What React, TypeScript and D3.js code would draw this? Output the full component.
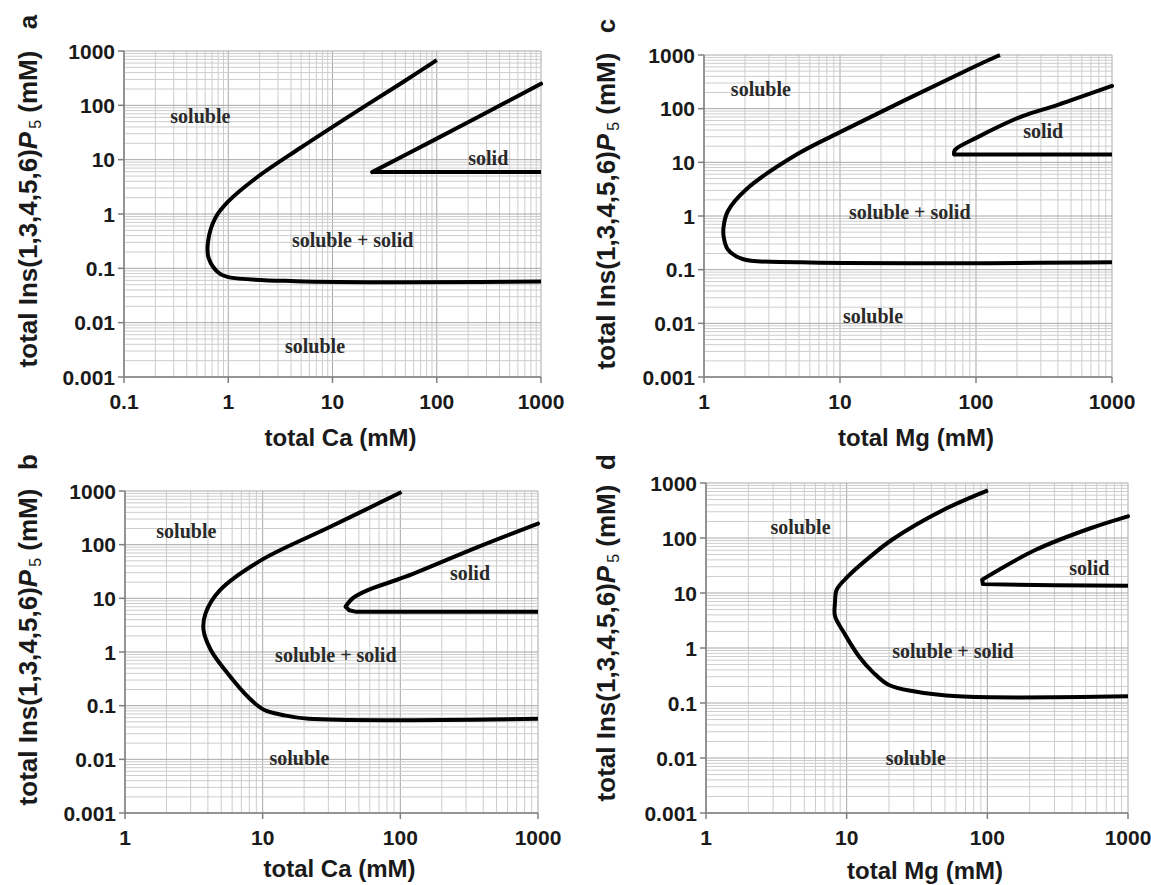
import React, { useRef, useEffect } from 'react'
import * as d3 from 'd3'

type Pt = [number, number]

// boundary curves, [total metal (mM), total InsP5 (mM)]
const outerA: Pt[] = [[100, 680], [48, 272], [21, 100], [4.9, 16.4], [1.85, 4.6], [1, 1.7], [0.75, 0.84], [0.64, 0.31], [0.65, 0.153], [0.82, 0.081], [1, 0.069], [4.5, 0.058], [1000, 0.057]]
const innerA: Pt[] = [[1000, 250], [244, 59.6], [100, 24.4], [24, 5.9], [1000, 5.9]]

const outerB: Pt[] = [[102, 955], [31, 215], [9.7, 51], [4.9, 14.2], [3.84, 5.2], [3.72, 2.56], [4.2, 1.09], [5.56, 0.4], [8, 0.137], [10.3, 0.083], [14, 0.067], [21.6, 0.057], [1000, 0.057]]
const innerB: Pt[] = [[1000, 247], [368, 91], [108, 25], [58, 14.2], [45, 10], [40, 7], [42.5, 6], [48, 5.6], [1000, 5.6]]

const outerC: Pt[] = [[150, 1000], [97, 605], [10, 36.5], [4.9, 14.4], [2.05, 3.16], [1.5, 1.24], [1.39, 0.6], [1.4, 0.39], [1.5, 0.237], [1.92, 0.158], [5.2, 0.137], [1000, 0.137]]
const innerC: Pt[] = [[1000, 265], [400, 118], [218, 72], [103, 29.5], [70, 17], [69, 14], [1000, 14]]

const outerD: Pt[] = [[101, 736], [49, 327], [21, 93], [13.8, 40], [10.2, 20], [8.5, 11.5], [8.26, 6.6], [8.26, 3.8], [9.6, 1.87], [12.2, 0.71], [15.6, 0.35], [19.8, 0.215], [30, 0.163], [62, 0.132], [1000, 0.132]]
const innerD: Pt[] = [[1000, 248], [547, 152], [221, 61], [92, 17.5], [93, 14.5], [300, 13.8], [1000, 13.6]]

// region labels
const labelsA = [{ t: 'soluble', x: 0.54, y: 63 }, { t: 'solid', x: 312, y: 10.7 }, { t: 'soluble + solid', x: 15.6, y: 0.32 }, { t: 'soluble', x: 6.8, y: 0.0037 }]
const labelsB = [{ t: 'soluble', x: 2.79, y: 173 }, { t: 'solid', x: 321, y: 29 }, { t: 'soluble + solid', x: 34, y: 0.88 }, { t: 'soluble', x: 18.5, y: 0.0105 }]
const labelsC = [{ t: 'soluble', x: 2.62, y: 227 }, { t: 'solid', x: 312, y: 37.6 }, { t: 'soluble + solid', x: 32.6, y: 1.15 }, { t: 'soluble', x: 17.5, y: 0.0133 }]
const labelsD = [{ t: 'soluble', x: 4.7, y: 158 }, { t: 'solid', x: 531, y: 28.5 }, { t: 'soluble + solid', x: 57, y: 0.87 }, { t: 'soluble', x: 31, y: 0.01 }]

const yTicks = [0.001, 0.01, 0.1, 1, 10, 100, 1000]
const yTickLabels = ['0.001', '0.01', '0.1', '1', '10', '100', '1000']
const xTicksWide = [0.1, 1, 10, 100, 1000]
const xTickLabelsWide = ['0.1', '1', '10', '100', '1000']
const xTicks = [1, 10, 100, 1000]
const xTickLabels = ['1', '10', '100', '1000']

const panels = [
  { id: 'a', outer: outerA, inner: innerA, labels: labelsA, xTicks: xTicksWide, xLabels: xTickLabelsWide, xTitle: 'total Ca (mM)',
    box: { left: 124, right: 541, top: 51, bottom: 377 }, titleX: 28, titleY: 446, letterY: 22 },
  { id: 'b', outer: outerB, inner: innerB, labels: labelsB, xTicks: xTicks, xLabels: xTickLabels, xTitle: 'total Ca (mM)',
    box: { left: 125, right: 538, top: 491, bottom: 813 }, titleX: 28, titleY: 877, letterY: 462 },
  { id: 'c', outer: outerC, inner: innerC, labels: labelsC, xTicks: xTicks, xLabels: xTickLabels, xTitle: 'total Mg (mM)',
    box: { left: 704, right: 1112, top: 55, bottom: 377 }, titleX: 606, titleY: 446, letterY: 26 },
  { id: 'd', outer: outerD, inner: innerD, labels: labelsD, xTicks: xTicks, xLabels: xTickLabels, xTitle: 'total Mg (mM)',
    box: { left: 706, right: 1128, top: 483, bottom: 813 }, titleX: 606, titleY: 879, letterY: 462 },
]

const sans = "'Liberation Sans', Arial, sans-serif"
const serif = "'Liberation Serif', 'Times New Roman', serif"

export default function App() {
  const ref = useRef<SVGSVGElement>(null)

  useEffect(() => {
    const svg = d3.select(ref.current)
    svg.selectAll('*').remove()

    panels.forEach(p => {
      const b = p.box
      const xDomain = [p.xTicks[0], p.xTicks[p.xTicks.length - 1]]
      const x = d3.scaleLog().domain(xDomain).range([b.left, b.right])
      const y = d3.scaleLog().domain([0.001, 1000]).range([b.bottom, b.top])
      const g = svg.append('g').attr('id', 'panel-' + p.id)

      // gridlines, every 1..9 of each decade
      const xGrid: number[] = []
      for (let i = 0; i < p.xTicks.length - 1; i++)
        for (let k = 1; k <= 9; k++) xGrid.push(p.xTicks[i] * k)
      xGrid.push(xDomain[1])
      const yGrid: number[] = []
      for (let i = 0; i < yTicks.length - 1; i++)
        for (let k = 1; k <= 9; k++) yGrid.push(yTicks[i] * k)
      yGrid.push(1000)

      g.append('g').selectAll('line').data(xGrid).join('line')
        .attr('x1', d => x(d)).attr('x2', d => x(d))
        .attr('y1', b.top).attr('y2', b.bottom)
        .attr('stroke', (d, i) => i % 9 === 0 ? '#a8a8a8' : '#cdcdcd')
        .attr('stroke-width', 1)
      g.append('g').selectAll('line').data(yGrid).join('line')
        .attr('x1', b.left).attr('x2', b.right)
        .attr('y1', d => y(d)).attr('y2', d => y(d))
        .attr('stroke', (d, i) => i % 9 === 0 ? '#a8a8a8' : '#cdcdcd')
        .attr('stroke-width', 1)

      // axes
      g.append('line').attr('x1', b.left).attr('x2', b.left).attr('y1', b.top).attr('y2', b.bottom)
        .attr('stroke', '#7f7f7f').attr('stroke-width', 1.5)
      g.append('line').attr('x1', b.left).attr('x2', b.right).attr('y1', b.bottom).attr('y2', b.bottom)
        .attr('stroke', '#7f7f7f').attr('stroke-width', 1.5)
      g.append('g').selectAll('line').data(yTicks).join('line')
        .attr('x1', b.left - 6).attr('x2', b.left).attr('y1', d => y(d)).attr('y2', d => y(d))
        .attr('stroke', '#7f7f7f').attr('stroke-width', 1.5)
      g.append('g').selectAll('line').data(p.xTicks).join('line')
        .attr('x1', d => x(d)).attr('x2', d => x(d)).attr('y1', b.bottom).attr('y2', b.bottom + 6)
        .attr('stroke', '#7f7f7f').attr('stroke-width', 1.5)

      g.append('g').selectAll('text').data(yTicks).join('text')
        .attr('x', b.left - 9).attr('y', d => y(d)).attr('dy', '0.36em')
        .attr('text-anchor', 'end').attr('font-family', sans).attr('font-weight', 'bold')
        .attr('font-size', 21).attr('fill', '#1a1a1a')
        .text((d, i) => yTickLabels[i])
      g.append('g').selectAll('text').data(p.xTicks).join('text')
        .attr('x', d => x(d)).attr('y', b.bottom + 24).attr('dy', '0.36em')
        .attr('text-anchor', 'middle').attr('font-family', sans).attr('font-weight', 'bold')
        .attr('font-size', 21).attr('fill', '#1a1a1a')
        .text((d, i) => p.xLabels[i])

      // titles
      g.append('text')
        .attr('x', (b.left + b.right) / 2 + 8).attr('y', p.titleY)
        .attr('text-anchor', 'middle').attr('font-family', sans).attr('font-weight', 'bold')
        .attr('font-size', 24).attr('fill', '#1a1a1a')
        .text(p.xTitle)

      const yt = g.append('text')
        .attr('transform', `translate(${p.titleX + 9},${(b.top + b.bottom) / 2 - 5}) rotate(-90)`)
        .attr('text-anchor', 'middle').attr('font-family', sans).attr('font-weight', 'bold')
        .attr('font-size', 26).attr('fill', '#1a1a1a')
      yt.append('tspan').text('total Ins(1,3,4,5,6)')
      yt.append('tspan').attr('font-style', 'italic').text('P')
      yt.append('tspan').attr('font-size', 16).attr('font-weight', 'normal').attr('dx', 3).attr('dy', 4).text('5')
      yt.append('tspan').attr('dy', -4).text(' (mM)')

      g.append('text')
        .attr('transform', `translate(${p.titleX + 9},${p.letterY}) rotate(-90)`)
        .attr('text-anchor', 'middle').attr('font-family', sans).attr('font-weight', 'bold')
        .attr('font-size', 26).attr('fill', '#1a1a1a')
        .text(p.id)

      // region boundaries
      const line = d3.line<Pt>().x(d => x(d[0])).y(d => y(d[1]))
      g.append('path').datum(p.outer)
        .attr('d', line.curve(d3.curveCatmullRom.alpha(0.5)))
        .attr('fill', 'none').attr('stroke', '#000').attr('stroke-width', 4)
        .attr('stroke-linejoin', 'round')

      // the solid wedge: curved upper edge down to its tip, straight lower edge
      const tip = d3.minIndex(p.inner, d => d[0])
      g.append('path').datum(p.inner.slice(0, tip + 1))
        .attr('d', line.curve(d3.curveCatmullRom.alpha(0.5)))
        .attr('fill', 'none').attr('stroke', '#000').attr('stroke-width', 4)
        .attr('stroke-linejoin', 'round').attr('stroke-linecap', 'round')
      g.append('path').datum(p.inner.slice(tip))
        .attr('d', line.curve(d3.curveLinear))
        .attr('fill', 'none').attr('stroke', '#000').attr('stroke-width', 4)
        .attr('stroke-linejoin', 'round')

      g.append('g').selectAll('text').data(p.labels).join('text')
        .attr('x', d => x(d.x)).attr('y', d => y(d.y)).attr('dy', '0.33em')
        .attr('text-anchor', 'middle').attr('font-family', serif).attr('font-weight', 'bold')
        .attr('font-size', 20).attr('fill', '#2a2a2a')
        .text(d => d.t)
    })
  }, [])

  return (
    <svg ref={ref} width={1151} height={885}
      style={{ position: 'absolute', left: 0, top: 0, background: '#fff' }} />
  )
}
